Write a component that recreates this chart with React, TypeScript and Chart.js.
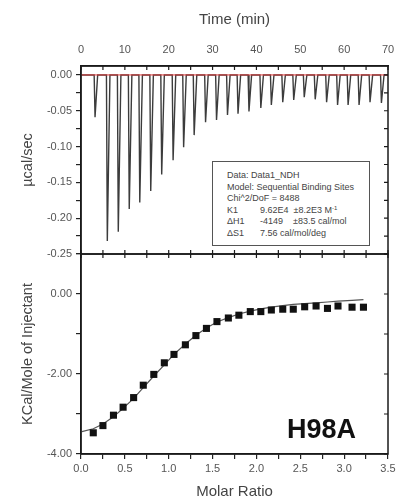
import React, { useEffect, useRef } from "react";
import { Chart, registerables } from "chart.js";
Chart.register(...registerables);

// ---- Raw ITC trace (top panel) ----
const injectionTimes = [3.0, 5.8, 8.3, 10.8, 13.2, 15.7, 18.2, 20.8, 23.2, 25.6, 28.2, 30.7, 33.2, 35.6, 38.1, 40.8, 43.2, 45.8, 48.3, 50.7, 53.2, 55.8, 58.3, 60.7, 63.2, 65.7, 68.3];
const peakDepths = [-0.059, -0.232, -0.219, -0.187, -0.178, -0.162, -0.139, -0.119, -0.101, -0.084, -0.066, -0.063, -0.056, -0.054, -0.051, -0.046, -0.042, -0.038, -0.035, -0.031, -0.034, -0.038, -0.042, -0.042, -0.042, -0.038, -0.039];
const baselineTimes = [0, 70];
const baselineValues = [0, 0];

// ---- Integrated heats (bottom panel) ----
const molarRatio = [0.14, 0.25, 0.37, 0.48, 0.60, 0.71, 0.83, 0.95, 1.06, 1.19, 1.31, 1.43, 1.55, 1.68, 1.80, 1.93, 2.05, 2.17, 2.30, 2.42, 2.55, 2.68, 2.81, 2.93, 3.09, 3.22];
const heatPerMole = [-3.47, -3.29, -3.03, -2.83, -2.59, -2.28, -2.01, -1.72, -1.51, -1.27, -1.04, -0.86, -0.69, -0.60, -0.53, -0.44, -0.44, -0.40, -0.38, -0.38, -0.32, -0.30, -0.36, -0.30, -0.33, -0.33];
const fitRatio = [0.01, 0.14, 0.25, 0.37, 0.48, 0.60, 0.71, 0.83, 0.95, 1.06, 1.19, 1.31, 1.43, 1.55, 1.68, 1.80, 1.93, 2.05, 2.17, 2.30, 2.42, 2.55, 2.68, 2.81, 2.93, 3.09, 3.22];
const fitHeat = [-3.44, -3.37, -3.25, -3.07, -2.86, -2.61, -2.34, -2.05, -1.77, -1.51, -1.25, -1.03, -0.85, -0.70, -0.59, -0.50, -0.43, -0.37, -0.33, -0.29, -0.26, -0.24, -0.22, -0.20, -0.18, -0.16, -0.14];

const FONT = "'Liberation Sans', Arial, sans-serif";
const TICK_COLOR = "#555";
const TITLE_COLOR = "#444";

const framePlugin = {
  id: "frame",
  afterDatasetsDraw(chart: any, _args: any, opts: any) {
    const { ctx, chartArea, scales } = chart;
    const { left, right, top, bottom } = chartArea;
    ctx.save();
    ctx.strokeStyle = "#1a1a1a";
    ctx.lineWidth = 1.5;
    ctx.strokeRect(left, top, right - left, bottom - top);
    const L = 4;
    ctx.lineWidth = 1.2;
    ctx.beginPath();
    const xs = scales.x;
    const ys = scales.y;
    xs.ticks.forEach((t: any) => {
      const p = xs.getPixelForValue(t.value);
      if (opts.top) { ctx.moveTo(p, top); ctx.lineTo(p, top + L); }
      if (opts.bottom) { ctx.moveTo(p, bottom); ctx.lineTo(p, bottom - L); }
    });
    if (opts.right) {
      ys.ticks.forEach((t: any) => {
        const p = ys.getPixelForValue(t.value);
        ctx.moveTo(right, p); ctx.lineTo(right - L, p);
      });
    }
    ctx.stroke();
    ctx.restore();
  },
};

const isMultiple = (v: number, step: number) => Math.abs(v / step - Math.round(v / step)) < 1e-6;
const fmt = (v: number, d: number) => (Math.abs(v) < 1e-9 ? 0 : v).toFixed(d);

export default function App() {
  const topRef = useRef<HTMLCanvasElement>(null);
  const botRef = useRef<HTMLCanvasElement>(null);

  useEffect(() => {
    const trace: { x: number; y: number }[] = [{ x: 0, y: 0 }];
    injectionTimes.forEach((t, i) => {
      trace.push({ x: t, y: 0 });
      trace.push({ x: t + 0.2, y: peakDepths[i] });
      trace.push({ x: t + 0.8, y: 0 });
    });
    trace.push({ x: 70, y: 0 });

    const top = new Chart(topRef.current as HTMLCanvasElement, {
      type: "line",
      data: {
        datasets: [
          {
            data: baselineTimes.map((x, i) => ({ x, y: baselineValues[i] })),
            borderColor: "#e03a3a",
            borderWidth: 1,
            pointRadius: 0,
          },
          {
            data: trace,
            borderColor: "#3c3c3c",
            borderWidth: 1.4,
            pointRadius: 0,
            tension: 0,
          },
        ],
      },
      options: {
        responsive: false,
        animation: false,
        layout: { padding: { left: 0, right: 16, top: 0, bottom: 16 } },
        plugins: {
          legend: { display: false },
          tooltip: { enabled: false },
          frame: { top: true, bottom: true, right: true },
        } as any,
        scales: {
          x: {
            type: "linear",
            position: "top",
            min: 0,
            max: 70,
            afterFit: (s: any) => { s.height = 66; },
            ticks: {
              stepSize: 5,
              autoSkip: false,
              maxRotation: 0,
              padding: 9,
              color: TICK_COLOR,
              font: { family: FONT, size: 11 },
              callback: (v: any) => (isMultiple(Number(v), 10) ? String(Math.round(Number(v))) : ""),
            },
            grid: { drawOnChartArea: false, drawTicks: false },
            border: { color: "#1a1a1a", width: 1.5 },
            title: {
              display: true,
              text: "Time (min)",
              color: TITLE_COLOR,
              font: { family: FONT, size: 15 },
              padding: { top: 11, bottom: 0 },
            },
          },
          y: {
            min: -0.25,
            max: 0.0125,
            afterFit: (s: any) => { s.width = 81; },
            ticks: {
              stepSize: 0.025,
              includeBounds: false,
              autoSkip: false,
              padding: 4,
              color: TICK_COLOR,
              font: { family: FONT, size: 11 },
              callback: (v: any) => (isMultiple(Number(v), 0.05) ? fmt(Number(v), 2) : ""),
            },
            grid: { drawOnChartArea: false, tickLength: 5, color: "#222", lineWidth: 1.2 },
            border: { color: "#1a1a1a", width: 1.5 },
            title: {
              display: true,
              text: "µcal/sec",
              color: TITLE_COLOR,
              font: { family: FONT, size: 14.5 },
              padding: { top: 19, bottom: 0 },
            },
          },
        },
      } as any,
      plugins: [framePlugin],
    });

    const bot = new Chart(botRef.current as HTMLCanvasElement, {
      type: "scatter",
      data: {
        datasets: [
          {
            data: molarRatio.map((x, i) => ({ x, y: heatPerMole[i] })),
            pointStyle: "rect",
            pointRadius: 5,
            backgroundColor: "#111",
            borderColor: "#111",
            borderWidth: 0,
          },
          {
            data: fitRatio.map((x, i) => ({ x, y: fitHeat[i] })),
            showLine: true,
            borderColor: "#555",
            borderWidth: 1.2,
            pointRadius: 0,
          },
        ],
      },
      options: {
        responsive: false,
        animation: false,
        layout: { padding: { left: 0, right: 16, top: 14, bottom: 0 } },
        plugins: {
          legend: { display: false },
          tooltip: { enabled: false },
          frame: { top: true, bottom: false, right: true },
        } as any,
        scales: {
          x: {
            type: "linear",
            position: "bottom",
            min: 0,
            max: 3.5,
            afterFit: (s: any) => { s.height = 48; },
            ticks: {
              stepSize: 0.25,
              autoSkip: false,
              maxRotation: 0,
              padding: 3,
              color: TICK_COLOR,
              font: { family: FONT, size: 11 },
              callback: (v: any) => (isMultiple(Number(v), 0.5) ? fmt(Number(v), 1) : ""),
            },
            grid: { drawOnChartArea: false, tickLength: 5, color: "#222", lineWidth: 1.2 },
            border: { color: "#1a1a1a", width: 1.5 },
            title: {
              display: true,
              text: "Molar Ratio",
              color: TITLE_COLOR,
              font: { family: FONT, size: 15 },
              padding: { top: 0, bottom: 1 },
            },
          },
          y: {
            min: -4,
            max: 1,
            afterFit: (s: any) => { s.width = 81; },
            ticks: {
              stepSize: 1,
              autoSkip: false,
              padding: 4,
              color: TICK_COLOR,
              font: { family: FONT, size: 11 },
              callback: (v: any) => (isMultiple(Number(v), 2) ? fmt(Number(v), 2) : ""),
            },
            grid: { drawOnChartArea: false, tickLength: 5, color: "#222", lineWidth: 1.2 },
            border: { color: "#1a1a1a", width: 1.5 },
            title: {
              display: true,
              text: "KCal/Mole of Injectant",
              color: TITLE_COLOR,
              font: { family: FONT, size: 14.5 },
              padding: { top: 19, bottom: 0 },
            },
          },
        },
      } as any,
      plugins: [framePlugin],
    });

    return () => {
      top.destroy();
      bot.destroy();
    };
  }, []);

  const lineStyle: React.CSSProperties = { whiteSpace: "pre", height: 11.5 };
  const lab: React.CSSProperties = { display: "inline-block", width: 33 };

  return (
    <div style={{ position: "fixed", left: 0, top: 0, width: 404, height: 502, background: "#fff", overflow: "hidden" }}>
      <canvas ref={topRef} width={404} height={270} style={{ position: "absolute", left: 0, top: 0, display: "block" }} />
      <canvas ref={botRef} width={404} height={262} style={{ position: "absolute", left: 0, top: 240, display: "block" }} />
      <div
        style={{
          position: "absolute",
          left: 212,
          top: 161,
          width: 158,
          height: 85,
          border: "1px solid #555",
          background: "#fff",
          fontFamily: FONT,
          fontSize: 9,
          lineHeight: "11.5px",
          color: "#444",
          padding: "8px 0 0 14px",
          boxSizing: "border-box",
        }}
      >
        <div style={lineStyle}>Data: Data1_NDH</div>
        <div style={lineStyle}>Model: Sequential Binding Sites</div>
        <div style={lineStyle}>Chi^2/DoF = 8488</div>
        <div style={lineStyle}><span style={lab}>K1</span>9.62E4  ±8.2E3 M<span style={{ fontSize: 6, position: "relative", top: -3 }}>-1</span></div>
        <div style={lineStyle}><span style={lab}>ΔH1</span>-4149    ±83.5 cal/mol</div>
        <div style={lineStyle}><span style={lab}>ΔS1</span>7.56 cal/mol/deg</div>
      </div>
      <div
        style={{
          position: "absolute",
          left: 287,
          top: 416,
          fontFamily: FONT,
          fontWeight: "bold",
          fontSize: 27,
          lineHeight: "27px",
          color: "#111",
        }}
      >
        H98A
      </div>
    </div>
  );
}
